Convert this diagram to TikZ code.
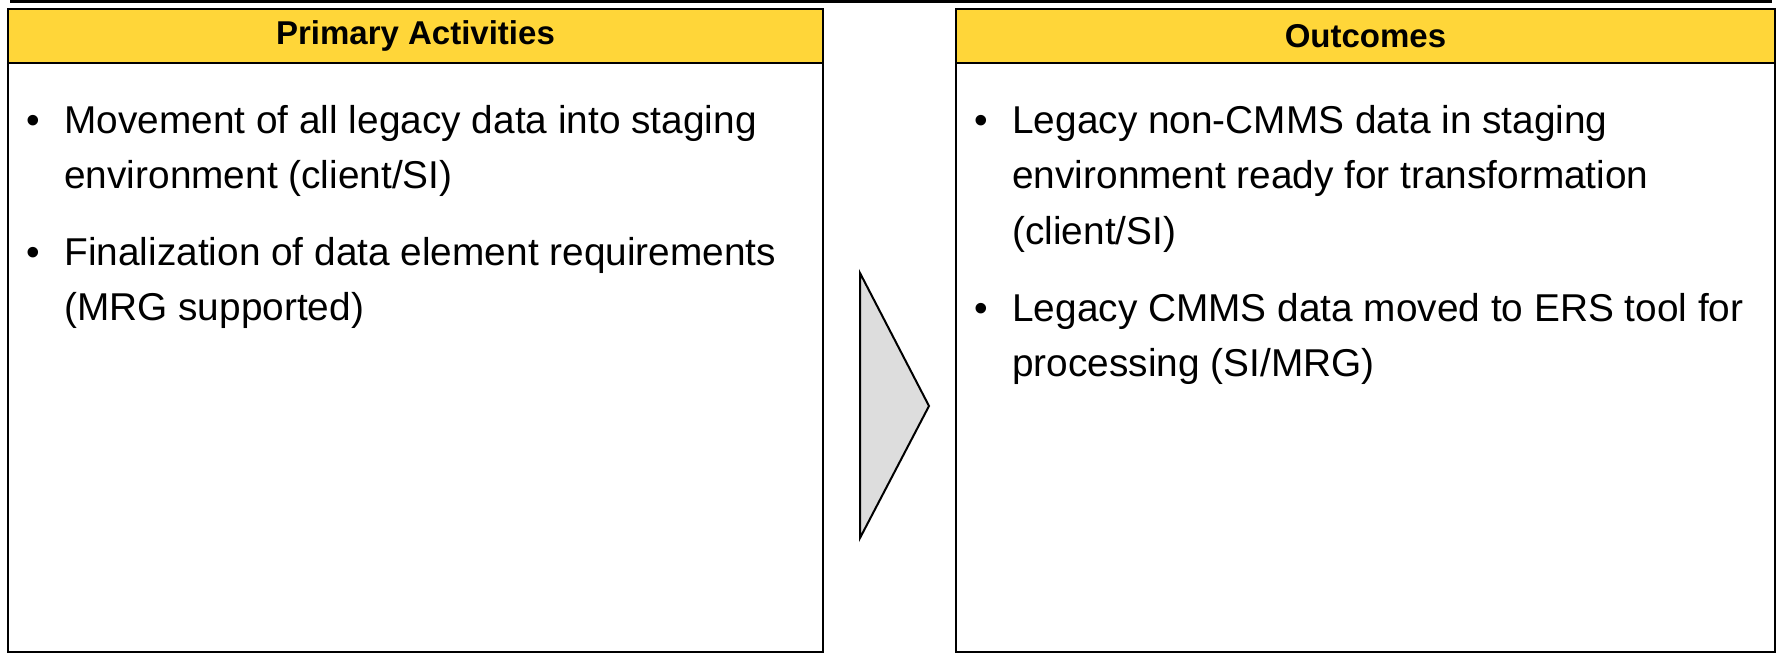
\documentclass[tikz,border=0pt]{standalone}
\usepackage{fontspec}
\setmainfont{Liberation Sans}
\usetikzlibrary{positioning}
\definecolor{headyellow}{RGB}{255,214,57}
\definecolor{arrowgray}{RGB}{221,221,221}
\tikzset{
	head box/.style={
		rectangle,
		draw=black,
		fill=headyellow,
		line width=1.3pt,
		minimum height=27pt,
		inner sep=0pt,
		outer sep=0pt,
		font=\fontsize{16.5pt}{20pt}\selectfont\bfseries
	},
	body box/.style={
		rectangle,
		draw=black,
		line width=1.3pt,
		minimum height=294.5pt,
		inner sep=0pt,
		outer sep=0pt
	},
	item dot/.style={
		inner sep=0pt,
		anchor=base,
		font=\fontsize{19.4pt}{27.75pt}\selectfont
	},
	item text/.style={
		inner sep=0pt,
		anchor=base west,
		font=\fontsize{19.4pt}{27.75pt}\selectfont
	},
	flow arrow/.style={draw=black, fill=arrowgray, line width=1pt},
	top rule/.style={draw=black, line width=1.75pt}
}
\newcommand{\panel}[4]{% name, title, centre x, width
	\node[head box, minimum width=#4] (#1head) at (#3,36) {#2};
	\node[body box, minimum width=#4, below=0pt of #1head] (#1body) {}
}
\newcommand{\bulletitem}[4]{% name, bullet x, baseline y, text
	\node[item dot] (#1dot) at (#2,#3) {\textbullet};
	\node[item text] (#1) at ([xshift=15.5pt]#1dot.base) {\parbox[t]{380pt}{\raggedright #4}}
}

\begin{document}
\begin{tikzpicture}[x=0.5pt, y=-0.5pt]
	\useasboundingbox (0,0) rectangle (1779,653);
	\coordinate (ruleL) at (10,1.5);
	\coordinate (ruleR) at (1772,1.5);
	\draw[top rule] (ruleL) -- (ruleR);
	
	\panel{act}{Primary Activities}{415.5}{407.5pt};
	\panel{out}{Outcomes}{1365.5}{409.5pt};
	
	\bulletitem{act1}{33}{133}{Movement of all legacy data into staging\\environment (client/SI)};
	\bulletitem{act2}{33}{265}{Finalization of data element requirements\\(MRG supported)};
	
	\bulletitem{out1}{981}{133}{Legacy non-CMMS data in staging\\environment ready for transformation\\(client/SI)};
	\bulletitem{out2}{981}{321}{Legacy CMMS data moved to ERS tool for\\processing (SI/MRG)};
	
	\draw[flow arrow] (860,273) -- (929,406) -- (860,538) -- cycle;
\end{tikzpicture}
\end{document}
